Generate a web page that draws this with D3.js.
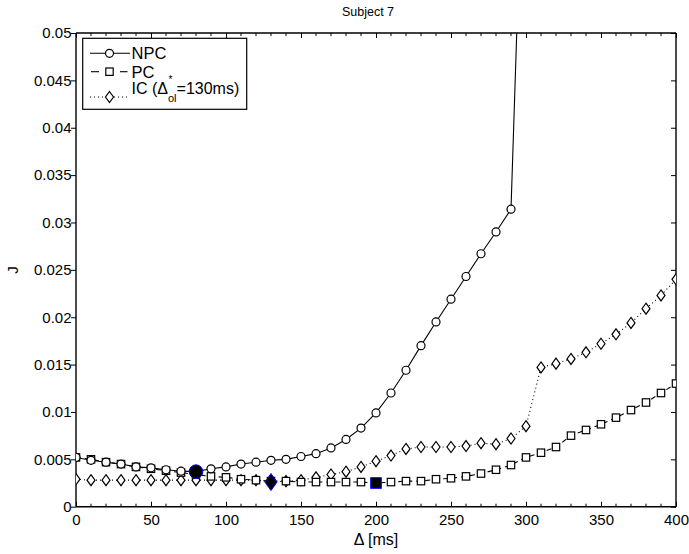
<!DOCTYPE html>
<html><head><meta charset="utf-8">
<script src="https://cdn.jsdelivr.net/npm/d3@7"></script>
<style>body{margin:0;background:#fff}svg{display:block}text{font-family:"Liberation Sans",Arial,sans-serif;fill:#000}</style>
</head><body>
<script>
const delays = d3.range(0, 401, 10);
const npc = [0.0052,0.0049,0.0047,0.0045,0.0042,0.0041,0.0039,0.00375,0.0037,0.0040,0.0042,0.0045,0.0047,0.0049,0.0050,0.0053,0.0056,0.0062,0.0071,0.0083,0.0099,0.0120,0.0144,0.0170,0.0195,0.0219,0.0243,0.0267,0.0290,0.0314,0.080];
const pc = [0.0052,0.0050,0.0047,0.0045,0.0042,0.0040,0.0038,0.0036,0.0034,0.0032,0.0031,0.0029,0.0028,0.0027,0.0027,0.0026,0.0026,0.0026,0.0026,0.0026,0.0025,0.0026,0.0027,0.0027,0.0029,0.0030,0.0032,0.0035,0.0039,0.0044,0.0052,0.0057,0.0063,0.0075,0.0081,0.0087,0.0094,0.0102,0.0110,0.0120,0.0130];
const ic = [0.0029,0.0028,0.0028,0.0028,0.0028,0.0028,0.0028,0.0028,0.0028,0.0028,0.0028,0.0028,0.0028,0.0026,0.0027,0.0028,0.0031,0.0034,0.0037,0.0042,0.0048,0.0054,0.0061,0.0063,0.0063,0.0063,0.0064,0.0067,0.0066,0.0072,0.0085,0.0147,0.0151,0.0156,0.0163,0.0172,0.0182,0.0194,0.0209,0.0223,0.0240];
const xTicks = [0,50,100,150,200,250,300,350,400];
const yTicks = [0,0.005,0.01,0.015,0.02,0.025,0.03,0.035,0.04,0.045,0.05];
const yTickLabels = ["0","0.005","0.01","0.015","0.02","0.025","0.03","0.035","0.04","0.045","0.05"];
const optNPC = 80, optIC = 130, optPC = 200;
const title = "Subject 7";

const W = 689, H = 554;
const L = 76, R = 676, T = 33, B = 506.7;
const svg = d3.select("body").append("svg").attr("width", W).attr("height", H);
const x = d3.scaleLinear().domain([0,400]).range([L,R]);
const y = d3.scaleLinear().domain([0,0.05]).range([B,T]);

svg.append("defs").append("clipPath").attr("id","clip")
  .append("rect").attr("x",L).attr("y",T).attr("width",R-L).attr("height",B-T);

// axes
const minor = d3.range(0,401,10);
const gB = svg.append("g").attr("transform",`translate(0,${B})`)
  .call(d3.axisBottom(x).tickValues(xTicks).tickSize(-5).tickPadding(8).tickFormat(d3.format("d")));
const gT = svg.append("g").attr("transform",`translate(0,${T})`)
  .call(d3.axisTop(x).tickValues(xTicks).tickSize(-5).tickFormat(""));
const gL = svg.append("g").attr("transform",`translate(${L},0)`)
  .call(d3.axisLeft(y).tickValues(yTicks).tickSize(5).tickPadding(0).tickFormat((d,i)=>yTickLabels[i]));
const gR = svg.append("g").attr("transform",`translate(${R},0)`)
  .call(d3.axisRight(y).tickValues(yTicks).tickSize(-5).tickFormat(""));
[gB,gT,gL,gR].forEach(g=>{
  g.select(".domain").attr("stroke","#000").attr("stroke-width",1.4);
  g.selectAll(".tick line").attr("stroke","#000").attr("stroke-width",1);
  g.selectAll("text").style("font-size","15px").attr("fill","#000");
});
gL.selectAll("text").attr("x",-4.5);
gB.select(".domain").attr("d",`M${L},0H${R}`);
gT.select(".domain").attr("d",`M${L},0H${R}`);
gL.select(".domain").attr("d",`M0,${B}V${T}`);
gR.select(".domain").attr("d",`M0,${B}V${T}`);
// minor x ticks
svg.append("g").selectAll("line").data(minor.filter(d=>d%50)).join("line")
  .attr("x1",d=>x(d)).attr("x2",d=>x(d)).attr("y1",B).attr("y2",B-3).attr("stroke","#000");
svg.append("g").selectAll("line").data(minor.filter(d=>d%50)).join("line")
  .attr("x1",d=>x(d)).attr("x2",d=>x(d)).attr("y1",T).attr("y2",T+3).attr("stroke","#000");

// lines
const plot = svg.append("g").attr("clip-path","url(#clip)");
const line = arr => d3.line().x((d,i)=>x(delays[i])).y(d=>y(d))(arr);
plot.append("path").attr("d",line(npc)).attr("fill","none").attr("stroke","#000").attr("stroke-width",1.1);
plot.append("path").attr("d",line(pc)).attr("fill","none").attr("stroke","#000").attr("stroke-width",1.1).attr("stroke-dasharray","5,4");
plot.append("path").attr("d",line(ic)).attr("fill","none").attr("stroke","#000").attr("stroke-width",1.1).attr("stroke-dasharray","1,3");

const diamond = (cx,cy,w,h)=>`M${cx},${cy-h}L${cx+w},${cy}L${cx},${cy+h}L${cx-w},${cy}Z`;
// markers
plot.append("g").selectAll("path").data(ic).join("path")
  .attr("d",(d,i)=>diamond(x(delays[i]),y(d),4,5.5)).attr("fill","#fff").attr("stroke","#000").attr("stroke-width",1.2);
plot.append("g").selectAll("rect").data(pc).join("rect")
  .attr("x",(d,i)=>x(delays[i])-3.7).attr("y",d=>y(d)-3.7).attr("width",7.4).attr("height",7.4)
  .attr("fill","#fff").attr("stroke","#000").attr("stroke-width",1.2);
plot.append("g").selectAll("circle").data(npc).join("circle")
  .attr("cx",(d,i)=>x(delays[i])).attr("cy",d=>y(d)).attr("r",4)
  .attr("fill","#fff").attr("stroke","#000").attr("stroke-width",1.2);

// optimum markers
const iN = delays.indexOf(optNPC), iI = delays.indexOf(optIC), iP = delays.indexOf(optPC);
plot.append("circle").attr("cx",x(optNPC)).attr("cy",y(npc[iN])).attr("r",6.8).attr("fill","#000").attr("stroke","#0000ff").attr("stroke-width",1);
plot.append("path").attr("d",diamond(x(optIC),y(ic[iI]),6,8.5)).attr("fill","#000").attr("stroke","#0000ff").attr("stroke-width",1);
plot.append("rect").attr("x",x(optPC)-5.3).attr("y",y(pc[iP])-5.3).attr("width",10.6).attr("height",10.6).attr("fill","#000").attr("stroke","#0000ff").attr("stroke-width",1);

// title & labels
svg.append("text").attr("x",368).attr("y",16).attr("text-anchor","middle").style("font-size","12.5px").text(title);
svg.append("text").attr("x",376).attr("y",545).attr("text-anchor","middle").style("font-size","16px").text("Δ [ms]");
svg.append("text").attr("transform",`translate(18,270) rotate(-90)`).attr("text-anchor","middle").style("font-size","15px").text("J");

// legend
const lg = svg.append("g");
lg.append("rect").attr("x",82.7).attr("y",38.3).attr("width",164).attr("height",71).attr("fill","#fff").attr("stroke","#000").attr("stroke-width",1.2);
const ly = [53.3, 71.7, 97];
lg.append("line").attr("x1",90).attr("x2",130).attr("y1",ly[0]).attr("y2",ly[0]).attr("stroke","#000").attr("stroke-width",1.1);
lg.append("circle").attr("cx",109.5).attr("cy",ly[0]).attr("r",4).attr("fill","#fff").attr("stroke","#000").attr("stroke-width",1.2);
lg.append("line").attr("x1",91).attr("x2",99).attr("y1",ly[1]).attr("y2",ly[1]).attr("stroke","#000").attr("stroke-width",1.1);
lg.append("line").attr("x1",120).attr("x2",127.5).attr("y1",ly[1]).attr("y2",ly[1]).attr("stroke","#000").attr("stroke-width",1.1);
lg.append("rect").attr("x",109.5-3.7).attr("y",ly[1]-3.7).attr("width",7.4).attr("height",7.4).attr("fill","#fff").attr("stroke","#000").attr("stroke-width",1.2);
lg.append("line").attr("x1",90).attr("x2",130).attr("y1",ly[2]).attr("y2",ly[2]).attr("stroke","#000").attr("stroke-width",1.1).attr("stroke-dasharray","1,3");
lg.append("path").attr("d",diamond(109.5,ly[2],4,5.5)).attr("fill","#fff").attr("stroke","#000").attr("stroke-width",1.2);
lg.append("text").attr("x",131.5).attr("y",ly[0]+6).style("font-size","16.5px").text("NPC");
lg.append("text").attr("x",131.5).attr("y",ly[1]+6).style("font-size","16.5px").text("PC");
// IC label built from pieces: main text, superscript star, subscript "ol", rest
const icA = lg.append("text").attr("x",131.5).attr("y",94).style("font-size","16px").text("IC (Δ");
const xa = 131.5 + icA.node().getComputedTextLength();
lg.append("text").attr("x",xa+0.5).attr("y",83).style("font-size","10px").text("*");
const icSub = lg.append("text").attr("x",xa).attr("y",101.5).style("font-size","11px").text("ol");
const xb = xa + icSub.node().getComputedTextLength();
lg.append("text").attr("x",xb).attr("y",94).style("font-size","16px").text("=130ms)");
</script>
</body></html>
